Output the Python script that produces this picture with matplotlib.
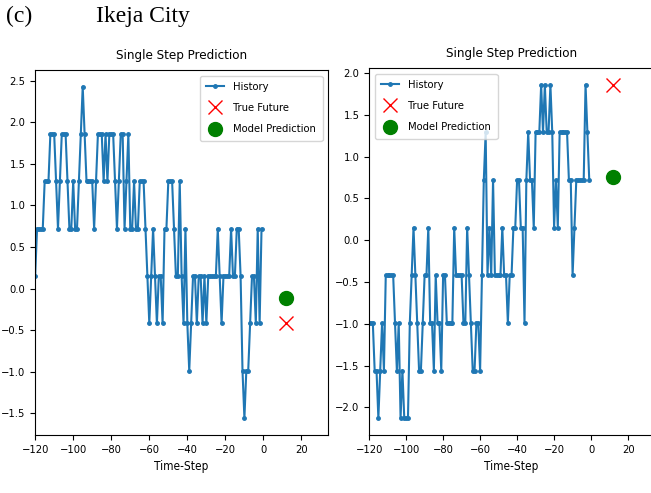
import numpy as np
import matplotlib
matplotlib.use("Agg")
import matplotlib.pyplot as plt

plt.rcParams['font.family'] = ['DejaVu Sans']
plt.rcParams['font.stretch'] = 'condensed'

# history windows (120 steps) for the two samples
hist_a = [0.15, 0.72, 0.72, 0.72, 0.72, 1.29, 1.29, 1.29, 1.86, 1.86,
          1.86, 1.29, 0.72, 1.29, 1.86, 1.86, 1.86, 1.29, 0.72, 0.72,
          1.29, 0.72, 0.72, 1.29, 1.86, 2.43, 1.86, 1.29, 1.29, 1.29,
          1.29, 0.72, 1.29, 1.86, 1.86, 1.86, 1.29, 1.86, 1.29, 1.86,
          1.86, 1.86, 1.29, 0.72, 1.29, 1.86, 1.86, 0.72, 1.29, 1.86,
          0.72, 0.72, 1.29, 0.72, 0.72, 1.29, 1.29, 1.29, 0.72, 0.15,
          -0.42, 0.15, 0.72, 0.15, -0.42, 0.15, 0.15, -0.42, 0.72, 0.72,
          1.29, 1.29, 1.29, 0.72, 0.15, 0.15, 1.29, 0.15, -0.42, 0.72,
          -0.42, -0.99, -0.42, 0.15, 0.15, -0.42, 0.15, 0.15, -0.42, 0.15,
          -0.42, 0.15, 0.15, 0.15, 0.15, 0.15, 0.72, 0.15, -0.42, 0.15,
          0.15, 0.15, 0.15, 0.72, 0.15, 0.15, 0.72, 0.72, 0.15, -0.99,
          -1.56, -0.99, -0.99, -0.42, 0.15, 0.15, -0.42, 0.72, -0.42, 0.72]
true_a = -0.42
pred_a = -0.11

hist_b = [-0.99, -0.99, -0.99, -1.56, -1.56, -2.13, -1.56, -0.99, -1.56, -0.42,
          -0.42, -0.42, -0.42, -0.42, -0.99, -1.56, -0.99, -2.13, -1.56, -2.13,
          -2.13, -2.13, -0.99, -0.42, 0.15, -0.42, -0.99, -1.56, -1.56, -0.99,
          -0.42, -0.42, 0.15, -0.99, -0.99, -1.56, -0.42, -0.99, -0.99, -1.56,
          -0.42, -0.42, -0.99, -0.99, -0.99, -0.99, 0.15, -0.42, -0.42, -0.42,
          -0.42, -0.99, -0.99, 0.15, -0.42, -0.99, -1.56, -1.56, -0.99, -0.99,
          -1.56, -0.42, 0.72, 1.29, -0.42, 0.15, -0.42, 0.72, -0.42, -0.42,
          -0.42, -0.42, 0.15, -0.42, -0.42, -0.99, -0.42, -0.42, 0.15, 0.15,
          0.72, 0.72, 0.15, 0.15, -0.99, 0.72, 1.29, 0.72, 0.72, 0.15,
          1.29, 1.29, 1.29, 1.86, 1.29, 1.86, 1.29, 1.29, 1.86, 1.29,
          0.15, 0.72, 0.15, 1.29, 1.29, 1.29, 1.29, 1.29, 0.72, 0.72,
          -0.42, 0.15, 0.72, 0.72, 0.72, 0.72, 0.72, 1.86, 1.29, 0.72]
true_b = 1.86
pred_b = 0.76

future = 12
labels = ['History', 'True Future', 'Model Prediction']
xticks = [-120, -100, -80, -60, -40, -20, 0, 20]


def show_plot(ax, history, true_val, pred_val, legend_loc):
    steps = np.arange(-len(history), 0)
    ax.plot(steps, history, '.-', markersize=5, label=labels[0])
    ax.plot(future, true_val, 'rx', markersize=10, label=labels[1])
    ax.plot(future, pred_val, 'go', markersize=10, label=labels[2])
    ax.set_title('Single Step Prediction', fontsize=9.5, pad=8)
    ax.set_xlim([steps[0], (future + 5) * 2])
    ax.set_xticks(xticks)
    ax.set_xlabel('Time-Step', fontsize=8.5)
    ax.tick_params(labelsize=8)
    ax.legend(loc=legend_loc, fontsize=8, labelspacing=1.0,
              handlelength=1.6, borderpad=0.6)


fig = plt.figure(figsize=(6.51, 4.93), dpi=100)
ax1 = fig.add_axes([0.054, 0.118, 0.450, 0.740])
ax2 = fig.add_axes([0.567, 0.118, 0.4376, 0.744])
show_plot(ax1, hist_a, true_a, pred_a, 'upper right')
show_plot(ax2, hist_b, true_b, pred_b, 'upper left')

fig.text(0.009, 0.955, '(c)', family='Liberation Serif', fontsize=17)
fig.text(0.148, 0.955, 'Ikeja City', family='Liberation Serif', fontsize=17)

fig.savefig('out.png', dpi=100)
